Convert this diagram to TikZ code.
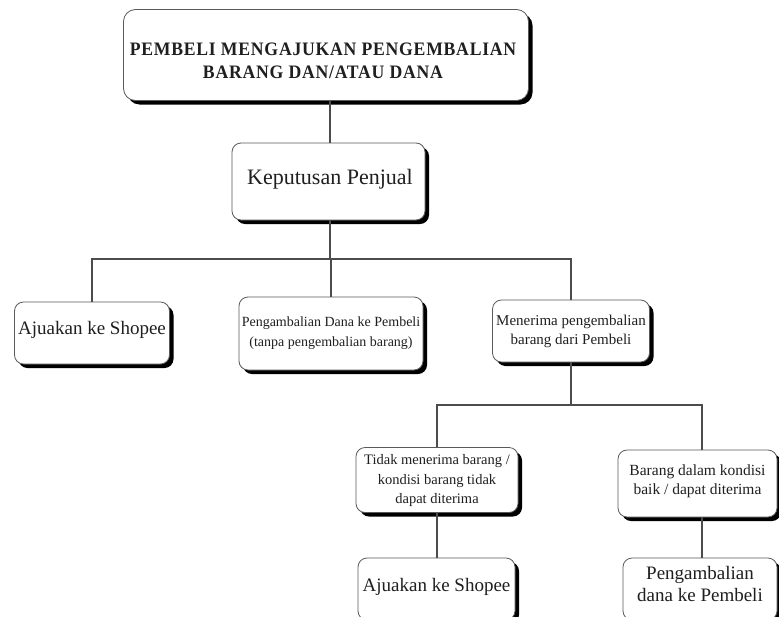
\documentclass[tikz,border=0pt]{standalone}
\usepackage{fontspec}
\setmainfont{Liberation Serif}
\newfontfamily\titlefont{Liberation Serif}[FakeStretch=0.93,LetterSpace=4]
\usetikzlibrary{shadows}
\begin{document}
\begin{tikzpicture}[x=1pt,y=-1pt,
  box/.style={draw=black!65, line width=0.8pt, fill=white, rounded corners=9pt, inner sep=0pt,
    drop shadow={shadow xshift=4pt, shadow yshift=-4pt, fill=black, opacity=1}},
  txt/.style={align=center, inner sep=0pt, text=black!88},
  link/.style={draw=black!70, line width=1.3pt}]
\useasboundingbox (0,0) rectangle (779,616);
\clip (0,0) rectangle (779,616);

% boxes
\node[box, rounded corners=12pt, minimum width=405pt, minimum height=91pt] (top) at (326,55) {};
\node[txt, font=\titlefont\bfseries\fontsize{19}{23}\selectfont] (topt) at (323,60.5) {PEMBELI MENGAJUKAN PENGEMBALIAN\\BARANG DAN/ATAU DANA};

\node[box, minimum width=193pt, minimum height=77pt] (kep) at (328.5,181.5) {};
\node[txt, font=\fontsize{22}{26}\selectfont] (kept) at (330,179) {Keputusan Penjual};

\node[box, minimum width=155pt, minimum height=62pt] (aja) at (92,333) {};
\node[txt, font=\fontsize{19}{23}\selectfont] (ajat) at (92,330) {Ajuakan ke Shopee};

\node[box, minimum width=184pt, minimum height=73pt] (dana) at (331,333.5) {};
\node[txt, font=\fontsize{14}{19.5}\selectfont] (danat) at (331,333) {Pengambalian Dana ke Pembeli\\(tanpa pengembalian barang)};

\node[box, minimum width=157pt, minimum height=62pt] (mnr) at (571,331) {};
\node[txt, font=\fontsize{15}{19}\selectfont] (mnrt) at (571,331.5) {Menerima pengembalian\\barang dari Pembeli};

\node[box, minimum width=162pt, minimum height=65pt] (tdk) at (437,480) {};
\node[txt, font=\fontsize{14.5}{19.5}\selectfont] (tdkt) at (437,481) {Tidak menerima barang /\\kondisi barang tidak\\dapat diterima};

\node[box, minimum width=159pt, minimum height=67pt] (brg) at (697.5,483.5) {};
\node[txt, font=\fontsize{15.5}{19}\selectfont] (brgt) at (697.5,481.5) {Barang dalam kondisi\\baik / dapat diterima};

\node[box, minimum width=157pt, minimum height=62pt] (ajb) at (436.5,589) {};
\node[txt, font=\fontsize{19}{23}\selectfont] (ajbt) at (436.5,587) {Ajuakan ke Shopee};

\node[box, minimum width=154pt, minimum height=62pt] (peng) at (700,589) {};
\node[txt, font=\fontsize{19}{22}\selectfont] (pengt) at (700,584) {Pengambalian\\dana ke Pembeli};

% connector junctions
\coordinate (j1) at (330,259);
\coordinate (j1l) at (92,259);
\coordinate (j1m) at (331,259);
\coordinate (j1r) at (571,259);
\coordinate (j2) at (571,405);
\coordinate (j2l) at (437,405);
\coordinate (j2r) at (702,405);

% connectors
\draw[link] (kep.north -| j1) -- (top.south -| j1);
\draw[link] (kep.south -| j1) -- (j1);
\draw[link] (j1l |- aja.north) -- (j1l) -- (j1r) -- (j1r |- mnr.north);
\draw[link] (j1m) -- (j1m |- dana.north);
\draw[link] (mnr.south -| j2) -- (j2);
\draw[link] (j2l |- tdk.north) -- (j2l) -- (j2r) -- (j2r |- brg.north);
\draw[link] (tdk.south -| j2l) -- (ajb.north -| j2l);
\draw[link] (brg.south -| j2r) -- (peng.north -| j2r);
\end{tikzpicture}
\end{document}
